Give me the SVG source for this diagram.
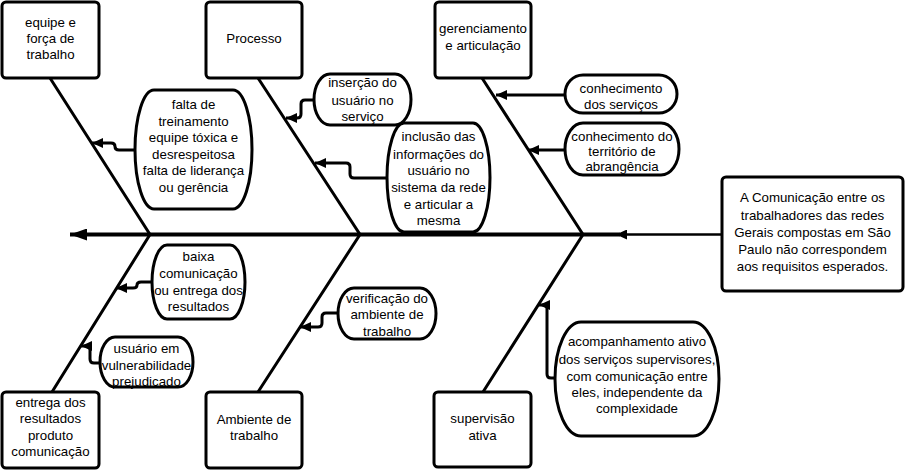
<svg xmlns="http://www.w3.org/2000/svg" width="905" height="470" viewBox="0 0 905 470">
  <style>
    .box { fill: #fff; stroke: #000; stroke-width: 3; }
    .term { fill: #fff; stroke: #000; stroke-width: 3; }
    .rib { fill: none; stroke: #000; stroke-width: 3; }
    .spine { fill: none; stroke: #000; stroke-width: 4; }
    .link { fill: none; stroke: #000; stroke-width: 3; }
    .thin { fill: none; stroke: #000; stroke-width: 2.5; }
    text { font-family: "Liberation Sans", Arial, sans-serif; font-size: 13.3px; fill: #000; text-anchor: middle; }
  </style>
  <defs>
    <marker id="head" markerUnits="userSpaceOnUse" markerWidth="12" markerHeight="10" refX="11" refY="5" orient="auto">
      <path d="M0,0 L11,5 L0,10 Z" fill="#000"/>
    </marker>
    <marker id="headBig" markerUnits="userSpaceOnUse" markerWidth="18" markerHeight="12" refX="17" refY="6" orient="auto">
      <path d="M0,0 L17,6 L0,12 Z" fill="#000"/>
    </marker>
  </defs>

  <!-- fishbone skeleton and cause connectors -->
  <g id="connectors">
    <path class="spine" d="M620,234.5 H70" marker-end="url(#headBig)"/>
    <path class="thin" d="M722,234.5 H616" marker-end="url(#head)"/>
    <path class="rib" d="M50,78 L150,234.5 L52,392"/>
    <path class="rib" d="M258,78 L360,234.5 L258,392"/>
    <path class="rib" d="M482,78 L583,234.5 L483,392"/>

    <path class="link" d="M135,150 H119 Q115,150 115,146.5 Q115,143 111,143 H92" marker-end="url(#head)"/>
    <path class="link" d="M314,100 H305 Q301,100 301,104 V114 Q301,118 297,118 H286" marker-end="url(#head)"/>
    <path class="link" d="M387,178 H354 Q350,178 350,174 V167 Q350,163 346,163 H315" marker-end="url(#head)"/>
    <path class="link" d="M565,95 H496" marker-end="url(#head)"/>
    <path class="link" d="M565,150 H528" marker-end="url(#head)"/>
    <path class="link" d="M152,282 H141 Q137,282 137,285 Q137,288 133,288 H116" marker-end="url(#head)"/>
    <path class="link" d="M100,363 H94 Q90,363 90,359 V350 Q90,346 86,346 H81" marker-end="url(#head)"/>
    <path class="link" d="M338,313 H326 Q322,313 322,317 V323 Q322,327 318,327 H300" marker-end="url(#head)"/>
    <path class="link" d="M555,378 H551 Q547,378 547,374 V309 Q547,305 543,305 H539" marker-end="url(#head)"/>
  </g>

  <!-- category boxes -->
  <g id="cat-equipe">
    <rect class="box" x="2" y="2" width="97" height="76" rx="4"/>
    <text x="50.5" y="27">equipe e</text>
    <text x="50.5" y="43">força de</text>
    <text x="50.5" y="59">trabalho</text>
  </g>
  <g id="cat-processo">
    <rect class="box" x="206" y="2" width="96" height="76" rx="4"/>
    <text x="254" y="43">Processo</text>
  </g>
  <g id="cat-gerenciamento">
    <rect class="box" x="435" y="2" width="96" height="76" rx="4"/>
    <text x="483" y="33">gerenciamento</text>
    <text x="483" y="49.5">e articulação</text>
  </g>
  <g id="cat-entrega">
    <rect class="box" x="2" y="392" width="97" height="76" rx="4"/>
    <text x="50.5" y="407">entrega dos</text>
    <text x="50.5" y="423">resultados</text>
    <text x="50.5" y="439.5">produto</text>
    <text x="50.5" y="456">comunicação</text>
  </g>
  <g id="cat-ambiente">
    <rect class="box" x="206" y="392" width="96" height="76" rx="4"/>
    <text x="254" y="424">Ambiente de</text>
    <text x="254" y="440">trabalho</text>
  </g>
  <g id="cat-supervisao">
    <rect class="box" x="434" y="392" width="97" height="75" rx="4"/>
    <text x="482.5" y="423">supervisão</text>
    <text x="482.5" y="439.5">ativa</text>
  </g>

  <!-- effect -->
  <g id="effect">
    <rect class="box" x="722" y="177" width="181" height="114" rx="4"/>
    <text x="812.5" y="202">A Comunicação entre os</text>
    <text x="812.5" y="219.5">trabalhadores das redes</text>
    <text x="812.5" y="236.5">Gerais compostas em São</text>
    <text x="812.5" y="254">Paulo não correspondem</text>
    <text x="812.5" y="271">aos requisitos esperados.</text>
  </g>

  <!-- causes -->
  <g id="cause-treinamento">
    <rect class="term" x="135" y="90" width="117" height="119" rx="19" ry="59.5"/>
    <text x="193.5" y="109">falta de</text>
    <text x="193.5" y="125.5">treinamento</text>
    <text x="193.5" y="142">equipe tóxica e</text>
    <text x="193.5" y="158.5">desrespeitosa</text>
    <text x="193.5" y="175">falta de liderança</text>
    <text x="193.5" y="192">ou gerência</text>
  </g>
  <g id="cause-insercao">
    <rect class="term" x="314" y="74" width="97" height="51" rx="16" ry="25.5"/>
    <text x="362.5" y="87">inserção do</text>
    <text x="362.5" y="104.5">usuário no</text>
    <text x="362.5" y="121">serviço</text>
  </g>
  <g id="cause-inclusao">
    <rect class="term" x="387" y="123" width="103" height="109" rx="17" ry="54.5"/>
    <text x="438.5" y="141">inclusão das</text>
    <text x="438.5" y="158.5">informações do</text>
    <text x="438.5" y="175">usuário no</text>
    <text x="438.5" y="192">sistema da rede</text>
    <text x="438.5" y="208.5">e articular a</text>
    <text x="438.5" y="225">mesma</text>
  </g>
  <g id="cause-servicos">
    <rect class="term" x="565" y="75" width="112" height="38" rx="18" ry="19"/>
    <text x="621" y="93">conhecimento</text>
    <text x="621" y="108.5">dos serviços</text>
  </g>
  <g id="cause-territorio">
    <rect class="term" x="565" y="123" width="114" height="52" rx="18" ry="26"/>
    <text x="622" y="140.5">conhecimento do</text>
    <text x="622" y="155.5">território de</text>
    <text x="622" y="171">abrangência</text>
  </g>
  <g id="cause-baixa">
    <rect class="term" x="152" y="245" width="93" height="74" rx="15" ry="37"/>
    <text x="198.5" y="261">baixa</text>
    <text x="198.5" y="278">comunicação</text>
    <text x="198.5" y="294.5">ou entrega dos</text>
    <text x="198.5" y="310.5">resultados</text>
  </g>
  <g id="cause-vulnerabilidade">
    <rect class="term" x="100" y="337" width="93" height="50" rx="15" ry="25"/>
    <text x="146.5" y="353">usuário em</text>
    <text x="146.5" y="369.5">vulnerabilidade</text>
    <text x="146.5" y="385.5">prejudicado</text>
  </g>
  <g id="cause-verificacao">
    <rect class="term" x="338" y="288" width="98" height="51" rx="16" ry="25.5"/>
    <text x="387" y="303">verificação do</text>
    <text x="387" y="319">ambiente de</text>
    <text x="387" y="335.5">trabalho</text>
  </g>
  <g id="cause-acompanhamento">
    <rect class="term" x="555" y="322" width="164" height="114" rx="26" ry="57"/>
    <text x="637" y="346">acompanhamento ativo</text>
    <text x="637" y="363.5">dos serviços supervisores,</text>
    <text x="637" y="380.5">com comunicação entre</text>
    <text x="637" y="397">eles, independente da</text>
    <text x="637" y="413">complexidade</text>
  </g>
</svg>
